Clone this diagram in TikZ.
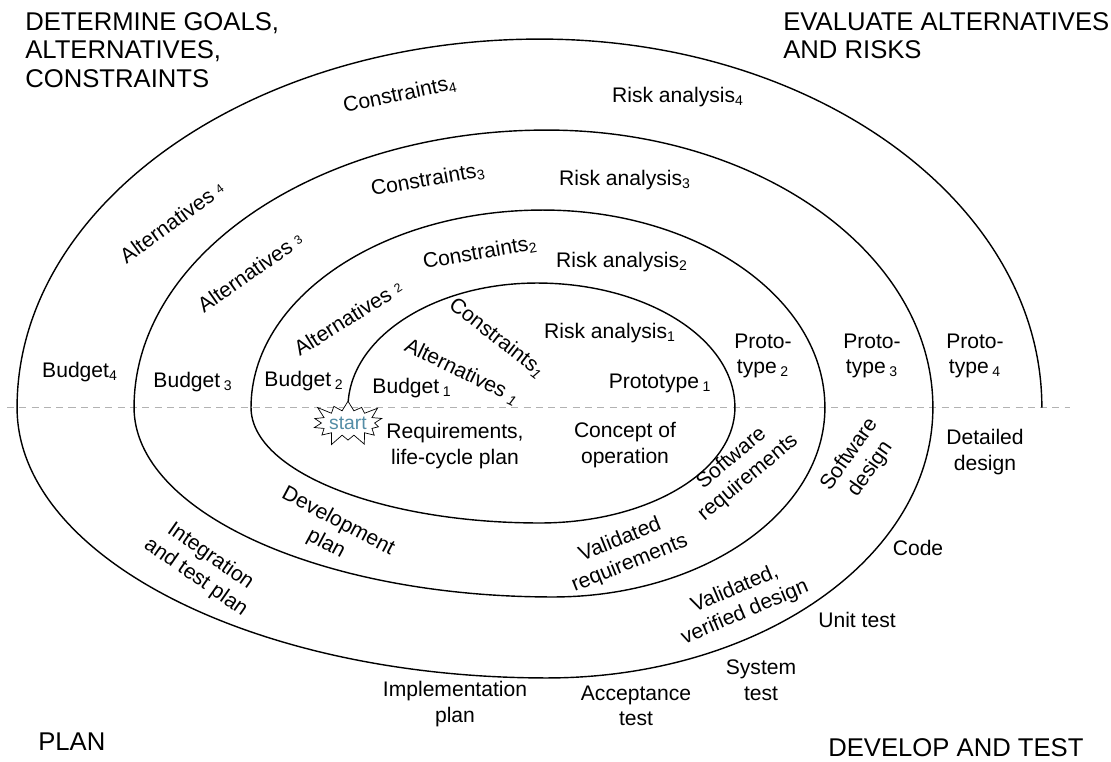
\documentclass[tikz,border=0pt]{standalone}
\usepackage{fontspec}
\setmainfont{Liberation Sans}
\usepackage{tikz}
\usetikzlibrary{shapes.symbols, positioning}
\definecolor{startblue}{RGB}{84,141,166}
\tikzstyle{phase} = [align=left, inner sep=0pt, anchor=north west, font=\fontsize{14.6}{16.2}\selectfont]
\tikzstyle{lbl} = [align=center, inner sep=0pt, font=\fontsize{12}{14.5}\selectfont]
\tikzstyle{spiral} = [line width=0.8pt, black]
\tikzstyle{midline} = [gray!60, dash pattern=on 4pt off 3pt]
\tikzstyle{burst} = [starburst, starburst points=14, starburst point height=0.26cm, draw, fill=white, inner sep=0pt, minimum width=1.45cm, minimum height=1.02cm, text=startblue, font=\fontsize{11}{12}\selectfont]

\begin{document}
\begin{tikzpicture}[x=0.02cm, y=-0.02cm]
\useasboundingbox (0,0) rectangle (1111,761);

\coordinate (axL) at (7,407.5);
\coordinate (axR) at (1070,407.5);
\coordinate (o) at (348,407.5);
\draw [midline] (axL) -- (axR);

\draw [spiral] (o)
  arc[start angle=180, end angle=90, x radius=3.78cm, y radius=2.49cm]
  arc[start angle=90, end angle=0, x radius=3.96cm, y radius=2.49cm]
  arc[start angle=0, end angle=-90, x radius=3.90cm, y radius=2.31cm]
  arc[start angle=-90, end angle=-180, x radius=5.78cm, y radius=2.31cm]
  arc[start angle=180, end angle=90, x radius=5.84cm, y radius=3.95cm]
  arc[start angle=90, end angle=0, x radius=5.64cm, y radius=3.95cm]
  arc[start angle=0, end angle=-90, x radius=5.44cm, y radius=3.79cm]
  arc[start angle=-90, end angle=-180, x radius=8.38cm, y radius=3.79cm]
  arc[start angle=180, end angle=90, x radius=8.26cm, y radius=5.55cm]
  arc[start angle=90, end angle=0, x radius=7.72cm, y radius=5.55cm]
  arc[start angle=0, end angle=-90, x radius=7.72cm, y radius=5.41cm]
  arc[start angle=-90, end angle=-180, x radius=10.60cm, y radius=5.41cm]
  arc[start angle=180, end angle=90, x radius=10.46cm, y radius=7.37cm]
  arc[start angle=90, end angle=0, x radius=10.04cm, y radius=7.37cm];

\node (start) [burst] at (348,423) {start};

\node (goals) [phase] at (25,12) {DETERMINE GOALS,\\ALTERNATIVES,\\CONSTRAINTS};
\node (risks) [phase] at (783,12) {EVALUATE ALTERNATIVES\\AND RISKS};
\node (plan) [phase, anchor=west] at (38,742) {PLAN};
\node (devtest) [phase, anchor=west] at (828,748) {DEVELOP AND TEST};

\node (con4) [lbl, rotate=12] at (400,95) {Constraints\textsubscript{4}};
\node (risk4) [lbl] at (678,97) {Risk analysis\textsubscript{4}};
\node (alt4) [lbl, rotate=36] at (172,222) {Alternatives {\scriptsize\raisebox{.3ex}{4}}};
\node (con3) [lbl, rotate=10] at (428,180) {Constraints\textsubscript{3}};
\node (risk3) [lbl] at (625,180) {Risk analysis\textsubscript{3}};
\node (alt3) [lbl, rotate=35] at (250,272) {Alternatives {\scriptsize\raisebox{.3ex}{3}}};
\node (con2) [lbl, rotate=10] at (480,253) {Constraints\textsubscript{2}};
\node (risk2) [lbl] at (622,262) {Risk analysis\textsubscript{2}};
\node (alt2) [lbl, rotate=32] at (348,318) {Alternatives {\scriptsize\raisebox{.3ex}{2}}};
\node (con1) [lbl, rotate=-38] at (497,338) {Constraints\textsubscript{\itshape 1}};
\node (alt1) [lbl, rotate=-26] at (462,372) {Alternatives \textsubscript{\itshape 1}};
\node (risk1) [lbl] at (610,333) {Risk analysis\textsubscript{1}};

\node (bud1) [lbl] at (412,388) {Budget\,\textsubscript{1}};
\node (bud2) [lbl] at (304,381) {Budget\,\textsubscript{2}};
\node (bud3) [lbl] at (193,382) {Budget\,\textsubscript{3}};
\node (bud4) [lbl] at (80,372) {Budget\textsubscript{4}};
\node (proto1) [lbl] at (660,383) {Prototype\,\textsubscript{1}};
\node (proto2) [lbl] at (763,356) {Proto-\\type\,\textsubscript{2}};
\node (proto3) [lbl] at (872,356) {Proto-\\type\,\textsubscript{3}};
\node (proto4) [lbl] at (975,356) {Proto-\\type\,\textsubscript{4}};

\node (req) [lbl] at (455,446) {Requirements,\\life-cycle plan};
\node (concept) [lbl] at (625,445) {Concept of\\operation};
\node (swreq) [lbl, rotate=40] at (740,468) {Software\\requirements};
\node (swdes) [lbl, rotate=55] at (860,462) {Software\\design};
\node (detdes) [lbl] at (985,452) {Detailed\\design};
\node (devplan) [lbl, rotate=-28] at (332,533) {Development\\plan};
\node (valreq) [lbl, rotate=22] at (625,552) {Validated\\requirements};
\node (itplan) [lbl, rotate=-35] at (203,567) {Integration\\and test plan};
\node (valdes) [lbl, rotate=23] at (740,601) {Validated,\\verified design};
\node (code) [lbl] at (918,548) {Code};
\node (unit) [lbl] at (857,620) {Unit test};
\node (system) [lbl] at (761,680) {System\\test};
\node (impl) [lbl] at (455,704) {Implementation\\plan};
\node (accept) [lbl] at (636,706) {Acceptance\\test};
\end{tikzpicture}
\end{document}
